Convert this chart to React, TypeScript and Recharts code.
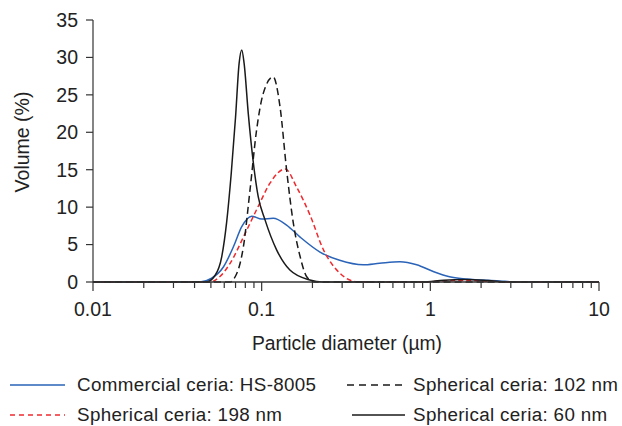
import React from 'react';
import { LineChart, Line, XAxis, YAxis } from 'recharts';

// Particle diameter (µm) and volume (%) per sample
const sizesHS = [0.01, 0.043, 0.0505, 0.0593, 0.068, 0.0762, 0.0873, 0.1, 0.117, 0.1405, 0.169, 0.2217, 0.29, 0.4, 0.5, 0.66, 0.83, 1.04, 1.3, 1.64, 2.55, 3.2, 10];
const volHS = [0, 0, 0.5, 2.0, 4.7, 7.4, 8.8, 8.4, 8.5, 7.6, 6.0, 4.0, 2.9, 2.3, 2.5, 2.7, 2.3, 1.4, 0.7, 0.4, 0.15, 0, 0];

const sizes102 = [0.01, 0.065, 0.07, 0.0745, 0.0779, 0.0853, 0.0933, 0.1022, 0.117, 0.1285, 0.1405, 0.154, 0.169, 0.185, 0.205, 10];
const vol102 = [0, 0, 0.8, 2.5, 4.7, 12.3, 20.3, 25.2, 27.4, 23.4, 15.0, 7.9, 3.4, 0.7, 0, 0];

const sizes198 = [0.01, 0.0494, 0.057, 0.065, 0.0814, 0.0973, 0.112, 0.138, 0.161, 0.193, 0.2325, 0.29, 0.3668, 0.5, 0.9, 1.2, 1.6, 2.2, 3, 10];
const vol198 = [0, 0, 0.8, 2.5, 6.9, 10.5, 13.2, 15.1, 12.7, 9.0, 4.3, 1.2, 0.05, 0, 0, 0.15, 0.2, 0.1, 0, 0];

const sizes60 = [0.01, 0.047, 0.053, 0.058, 0.062, 0.066, 0.07, 0.0735, 0.0762, 0.0787, 0.0833, 0.0894, 0.0954, 0.1047, 0.1226, 0.147, 0.193, 0.23, 0.9, 1.2, 1.6, 2.2, 2.9, 10];
const vol60 = [0, 0, 0.9, 3.4, 8.0, 14.5, 22.0, 29.2, 31.0, 29.2, 22.5, 15.8, 11.4, 8.3, 4.3, 1.6, 0.27, 0, 0, 0.25, 0.35, 0.2, 0, 0];

const xTicks = [0.01, 0.02, 0.03, 0.04, 0.05, 0.06, 0.07, 0.08, 0.09, 0.1, 0.2, 0.3, 0.4, 0.5, 0.6, 0.7, 0.8, 0.9, 1, 2, 3, 4, 5, 6, 7, 8, 9, 10];
const majorLabels = ['0.01', '0.1', '1', '10'];
const yTicks = [0, 5, 10, 15, 20, 25, 30, 35];

const seriesNames = ['Commercial ceria: HS-8005', 'Spherical ceria: 102 nm', 'Spherical ceria: 198 nm', 'Spherical ceria: 60 nm'];

const toPoints = (xs: number[], ys: number[]) => xs.map((x, i) => ({ x, y: ys[i] }));

const dataHS = toPoints(sizesHS, volHS);
const data102 = toPoints(sizes102, vol102);
const data198 = toPoints(sizes198, vol198);
const data60 = toPoints(sizes60, vol60);

const FONT = 'Liberation Sans, Arial, sans-serif';
const BLUE = '#2a63b8';
const RED = '#ee2a2f';
const BLACK = '#1a1a1a';

const isMajor = (v: number) => {
  const l = Math.log10(v);
  return Math.abs(l - Math.round(l)) < 1e-6;
};

const XTick = (props: any) => {
  const { x, y, payload } = props;
  const v = payload.value as number;
  const major = isMajor(v);
  const label = major ? majorLabels[Math.round(Math.log10(v)) + 2] : null;
  return (
    <g>
      <line x1={x} x2={x} y1={y} y2={y + (major ? 9 : 6)} stroke="#333" strokeWidth={1.2} />
      {label && (
        <text x={x} y={y + 34} textAnchor="middle" fontSize={19.5} fill="#222" fontFamily={FONT}>
          {label}
        </text>
      )}
    </g>
  );
};

const LegendRow = ({ x, y, len, textX, color, dash, text }: any) => (
  <g>
    <line x1={x} x2={x + len} y1={y} y2={y} stroke={color} strokeWidth={1.4} strokeDasharray={dash} />
    <text x={textX} y={y + 6} fontSize={18.8} letterSpacing={0.35} fill="#222" fontFamily={FONT}>
      {text}
    </text>
  </g>
);

export default function App() {
  return (
    <div style={{ position: 'absolute', left: 0, top: 0, width: 622, height: 426, background: '#fff' }}>
      <LineChart width={622} height={426} margin={{ top: 20, right: 23, bottom: 114, left: 0 }}>
        <XAxis
          dataKey="x"
          type="number"
          scale="log"
          domain={[0.01, 10]}
          ticks={xTicks}
          allowDataOverflow
          tickLine={false}
          tickSize={0}
          tickMargin={0}
          tick={<XTick />}
          interval={0}
          stroke="#333"
          strokeWidth={1.5}
          height={30}
        />
        <YAxis
          type="number"
          domain={[0, 35]}
          ticks={yTicks}
          width={93}
          tickSize={7}
          tickMargin={8}
          stroke="#333"
          strokeWidth={1.2}
          tick={{ fontSize: 19.5, fill: '#222', fontFamily: FONT }}
          interval={0}
        />
        <Line data={dataHS} dataKey="y" type="monotone" stroke={BLUE} strokeWidth={1.5} dot={false} isAnimationActive={false} />
        <Line data={data198} dataKey="y" type="monotone" stroke={RED} strokeWidth={1.5} strokeDasharray="5 3" dot={false} isAnimationActive={false} />
        <Line data={data102} dataKey="y" type="monotone" stroke={BLACK} strokeWidth={1.5} strokeDasharray="7 4" dot={false} isAnimationActive={false} />
        <Line data={data60} dataKey="y" type="monotone" stroke={BLACK} strokeWidth={1.5} dot={false} isAnimationActive={false} />
        <text x={347} y={350} textAnchor="middle" fontSize={19.3} fill="#222" fontFamily={FONT}>
          Particle diameter (µm)
        </text>
        <text x={29} y={142} textAnchor="middle" fontSize={19.5} fill="#222" fontFamily={FONT} transform="rotate(-90 29 142)">
          Volume (%)
        </text>
        <LegendRow x={10} y={385} len={55} textX={77} color={BLUE} dash={undefined} text={seriesNames[0]} />
        <LegendRow x={347} y={385} len={58} textX={413} color={BLACK} dash="7 5" text={seriesNames[1]} />
        <LegendRow x={10} y={415} len={55} textX={77} color={RED} dash="5 4" text={seriesNames[2]} />
        <LegendRow x={352} y={415} len={53} textX={413} color={BLACK} dash={undefined} text={seriesNames[3]} />
      </LineChart>
    </div>
  );
}
